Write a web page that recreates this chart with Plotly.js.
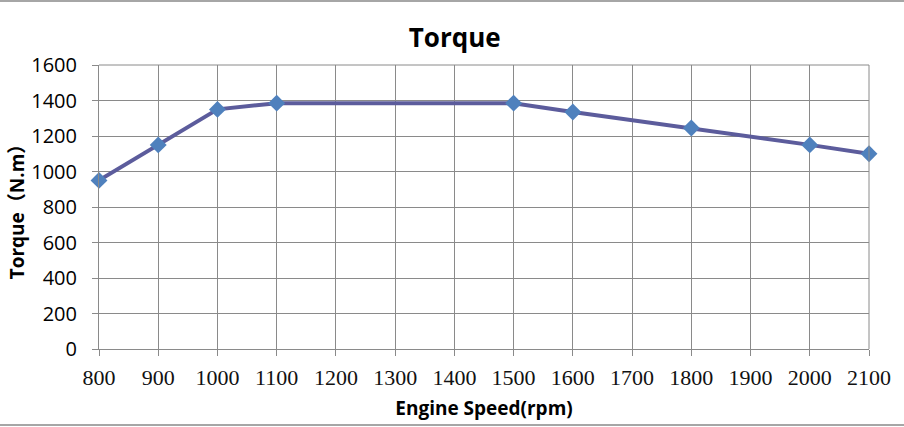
<!DOCTYPE html>
<html>
<head>
<meta charset="utf-8">
<script src="https://cdn.plot.ly/plotly-3.0.1.min.js"></script>
<style>
html,body{margin:0;padding:0;background:#fff;}
#wrap{position:relative;width:904px;height:427px;}
#chart{width:904px;height:427px;}
.hl{position:absolute;left:0;width:904px;height:2px;background:#a6a6a6;pointer-events:none;}
</style>
</head>
<body>
<div id="wrap">
<div id="chart"></div>
<div class="hl" style="top:0px;"></div>
<div class="hl" style="top:424px;"></div>
</div>
<script>
const engineSpeed = [800, 900, 1000, 1100, 1500, 1600, 1800, 2000, 2100];
const torque = [950, 1150, 1350, 1385, 1385, 1335, 1245, 1150, 1100];
const xTicks = [800, 900, 1000, 1100, 1200, 1300, 1400, 1500, 1600, 1700, 1800, 1900, 2000, 2100];
const yTicks = [0, 200, 400, 600, 800, 1000, 1200, 1400, 1600];

const trace = {
  x: engineSpeed,
  y: torque,
  type: 'scatter',
  mode: 'lines+markers',
  cliponaxis: false,
  line: {color: '#5c5c9c', width: 4},
  marker: {symbol: 'diamond', size: 13, color: '#4f81bd', line: {width: 0}},
  hoverinfo: 'x+y'
};

const layout = {
  width: 904,
  height: 427,
  margin: {l: 99, r: 35, t: 65, b: 78, pad: 0},
  paper_bgcolor: '#ffffff',
  plot_bgcolor: '#ffffff',
  showlegend: false,
  title: {
    text: 'Torque',
    font: {family: 'Open Sans, sans-serif', size: 26, color: '#000', weight: 'bold'},
    x: 0.503, xref: 'container', xanchor: 'center',
    y: 0.912, yref: 'container', yanchor: 'middle'
  },
  xaxis: {
    range: [800, 2100],
    tickmode: 'array',
    tickvals: xTicks,
    ticktext: xTicks.map(String),
    showgrid: true,
    gridcolor: '#8a8a8a',
    gridwidth: 1,
    showline: true,
    linecolor: '#8a8a8a',
    linewidth: 1,
    mirror: false,
    ticks: 'outside',
    ticklen: 6,
    tickcolor: '#8a8a8a',
    ticklabelstandoff: 3,
    tickfont: {family: 'Liberation Serif', size: 22, color: '#111', weight: 'normal'},
    zeroline: false,
    title: {
      text: 'Engine Speed(rpm)',
      font: {family: 'Open Sans, sans-serif', size: 19, color: '#000', weight: 'bold'},
      standoff: 12
    },
    automargin: false
  },
  yaxis: {
    range: [0, 1600],
    tickmode: 'array',
    tickvals: yTicks,
    ticktext: yTicks.map(String),
    showgrid: true,
    gridcolor: '#8a8a8a',
    gridwidth: 1,
    showline: true,
    linecolor: '#8a8a8a',
    linewidth: 1,
    ticks: 'outside',
    ticklen: 6,
    tickcolor: '#8a8a8a',
    ticklabelstandoff: 11,
    tickfont: {family: 'Open Sans, sans-serif', size: 20, color: '#000'},
    zeroline: false,
    title: {
      text: 'Torque（N.m）',
      font: {family: 'Open Sans, Noto Sans CJK SC, sans-serif', size: 19, color: '#000', weight: 'bold'},
      standoff: 1
    },
    automargin: false
  },
  shapes: [
    {type: 'line', xref: 'paper', yref: 'paper', x0: 1, x1: 1, y0: 0, y1: 1, line: {color: '#8a8a8a', width: 1}},
    {type: 'line', xref: 'paper', yref: 'paper', x0: 0, x1: 1, y0: 1, y1: 1, line: {color: '#8a8a8a', width: 1}}
  ]
};

Plotly.newPlot('chart', [trace], layout, {displayModeBar: false, staticPlot: true});
</script>
</body>
</html>
